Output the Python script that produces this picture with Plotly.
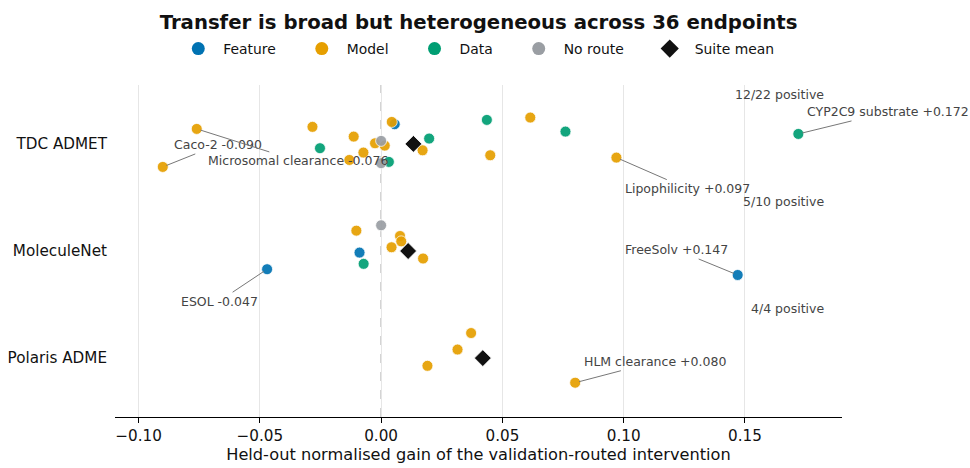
import numpy as np
import plotly.graph_objects as go

# ---------------- data ----------------
suites = ["TDC ADMET", "MoleculeNet", "Polaris ADME"]
routes = ["Feature", "Model", "Data", "No route"]

tdc_gain = [-0.090, -0.076, -0.0283, -0.0252, -0.0113, -0.0073, -0.0131, -0.0025,
            0.0, 0.0015, 0.0, 0.0032, 0.0056, 0.0044, 0.0171, 0.0198,
            0.045, 0.0436, 0.0615, 0.076, 0.097, 0.172]
tdc_route = ["Model", "Model", "Model", "Data", "Model", "Model", "Model", "Model",
             "No route", "Model", "No route", "Data", "Feature", "Model", "Model", "Data",
             "Model", "Data", "Model", "Data", "Model", "Data"]
tdc_jitter = [0.215, -0.14, -0.159, 0.04, -0.068, 0.081, 0.15, -0.006,
              -0.028, 0.016, 0.18, 0.168, -0.184, -0.205, 0.06, -0.05,
              0.106, -0.224, -0.246, -0.115, 0.128, -0.093]

mn_gain = [-0.047, 0.147, 0.0, -0.0102, 0.0078, 0.0083, 0.0043, 0.0173, -0.0089, -0.0072]
mn_route = ["Feature", "Feature", "No route", "Model", "Model", "Model", "Model", "Model",
            "Feature", "Data"]
mn_jitter = [0.17, 0.224, -0.24, -0.19, -0.14, -0.09, -0.035, 0.07, 0.015, 0.12]

pol_gain = [0.0371, 0.0315, 0.0191, 0.080]
pol_route = ["Model", "Model", "Model", "Model"]
pol_jitter = [-0.234, -0.08, 0.072, 0.23]

callout_names = ["CYP2C9 substrate", "Caco-2", "Microsomal clearance", "Lipophilicity",
                 "ESOL", "FreeSolv", "HLM clearance"]
callout_suite = ["TDC ADMET", "TDC ADMET", "TDC ADMET", "TDC ADMET",
                 "MoleculeNet", "MoleculeNet", "Polaris ADME"]
callout_value = [0.172, -0.090, -0.076, 0.097, -0.047, 0.147, 0.080]

x_ticks = [-0.10, -0.05, 0.00, 0.05, 0.10, 0.15]
x_ticktext = ["−0.10", "−0.05", "0.00", "0.05", "0.10", "0.15"]

# ---------------- style ----------------
colors = {"Feature": "#0072B2", "Model": "#E69F00", "Data": "#009E73", "No route": "#9a9ea3"}
FONT = "DejaVu Sans"
PAD = "\u00a0\u00a0\u00a0\u2009"

data_by_suite = {
    "TDC ADMET": (tdc_gain, tdc_route, tdc_jitter),
    "MoleculeNet": (mn_gain, mn_route, mn_jitter),
    "Polaris ADME": (pol_gain, pol_route, pol_jitter),
}

fig = go.Figure()

for r in routes:
    xs, ys = [], []
    for i, s in enumerate(suites):
        g, rt, jt = data_by_suite[s]
        for v, rr, j in zip(g, rt, jt):
            if rr == r:
                xs.append(v)
                ys.append(i + j)
    fig.add_trace(go.Scatter(
        x=xs, y=ys, mode="markers", name=r, showlegend=False,
        marker=dict(size=11, color=colors[r], opacity=0.92,
                    line=dict(color="white", width=0.8)),
        hoverinfo="skip"))

mean_x = [float(np.mean(data_by_suite[s][0])) for s in suites]
fig.add_trace(go.Scatter(
    x=mean_x, y=list(range(len(suites))), mode="markers", name="Suite mean",
    showlegend=False,
    marker=dict(symbol="diamond", size=13, color="#111111",
                line=dict(color="white", width=0.8)),
    hoverinfo="skip"))

# legend entries (larger legend symbols, as in the reference)
for r in routes:
    fig.add_trace(go.Scatter(
        x=[None], y=[None], mode="markers", name=r + PAD,
        marker=dict(size=13, color=colors[r], line=dict(width=0)), hoverinfo="skip"))
fig.add_trace(go.Scatter(
    x=[None], y=[None], mode="markers", name="Suite mean",
    marker=dict(symbol="diamond", size=14, color="#111111", line=dict(width=0)),
    hoverinfo="skip"))

# zero reference line
fig.add_shape(type="line", x0=0, x1=0, y0=0, y1=1, yref="paper", xref="x",
              line=dict(color="#b0b0b0", width=1.3, dash="dash"), layer="below")

annotations = []
# positive counts
for i, s in enumerate(suites):
    g = np.array(data_by_suite[s][0])
    annotations.append(dict(
        x=0.1832, y=i - 0.46, xref="x", yref="y", showarrow=False,
        text=f"{int((g > 0).sum())}/{len(g)} positive", xanchor="right", yanchor="middle",
        font=dict(family=FONT, size=12.5, color="#444444")))

# callouts
offsets = {"CYP2C9 substrate": (90, -22), "Caco-2": (55, -22), "Microsomal clearance": (101, 32),
           "Lipophilicity": (71, 31), "ESOL": (-48, 32), "FreeSolv": (-61, -25),
           "HLM clearance": (80, -21)}
for n, s, v in zip(callout_names, callout_suite, callout_value):
    g, rt, jt = data_by_suite[s]
    k = int(np.argmin(np.abs(np.array(g) - v)))
    ax, ay = offsets[n]
    annotations.append(dict(
        x=g[k], y=suites.index(s) + jt[k], xref="x", yref="y",
        text=f"{n} {v:+.3f}", showarrow=True, arrowhead=0,
        arrowwidth=1, arrowcolor="#777777", ax=ax, ay=ay, standoff=4,
        font=dict(family=FONT, size=12.5, color="#444444")))

fig.update_layout(
    width=970, height=468,
    margin=dict(l=115, r=128, t=85, b=51, autoexpand=False),
    plot_bgcolor="white", paper_bgcolor="white",
    font=dict(family=FONT, size=14, color="#111111"),
    title=dict(text="<b>Transfer is broad but heterogeneous across 36 endpoints</b>",
               xref="paper", x=0.5, xanchor="center",
               yref="container", y=1 - 21.7 / 468, yanchor="middle",
               font=dict(family=FONT, size=19.7, color="#111111")),
    legend=dict(orientation="h", xref="container", x=0.491, xanchor="center",
                yref="container", y=1 - 49 / 468, yanchor="middle",
                font=dict(family=FONT, size=13.9, color="#111111"),
                bgcolor="rgba(0,0,0,0)", itemwidth=40),
    annotations=annotations,
    xaxis=dict(range=[-0.1097, 0.190], tickvals=x_ticks, ticktext=x_ticktext,
               showgrid=True, gridcolor="#e6e6e6", gridwidth=1, zeroline=False,
               showline=True, linecolor="black", linewidth=1.2, ticks="outside",
               ticklen=5, tickcolor="black",
               tickfont=dict(family=FONT, size=15.2, color="#111111"),
               title=dict(text="Held-out normalised gain of the validation-routed intervention",
                          font=dict(family=FONT, size=16.2, color="#111111"), standoff=4)),
    yaxis=dict(range=[2.55, -0.55], tickvals=[0, 1, 2], ticktext=suites,
               showgrid=False, zeroline=False, showline=False, ticks="",
               ticklabelstandoff=7,
               tickfont=dict(family=FONT, size=15.2, color="#111111")),
)

fig.write_html("out.html", config={"displayModeBar": False},
               post_script="document.body.style.margin='0';")
